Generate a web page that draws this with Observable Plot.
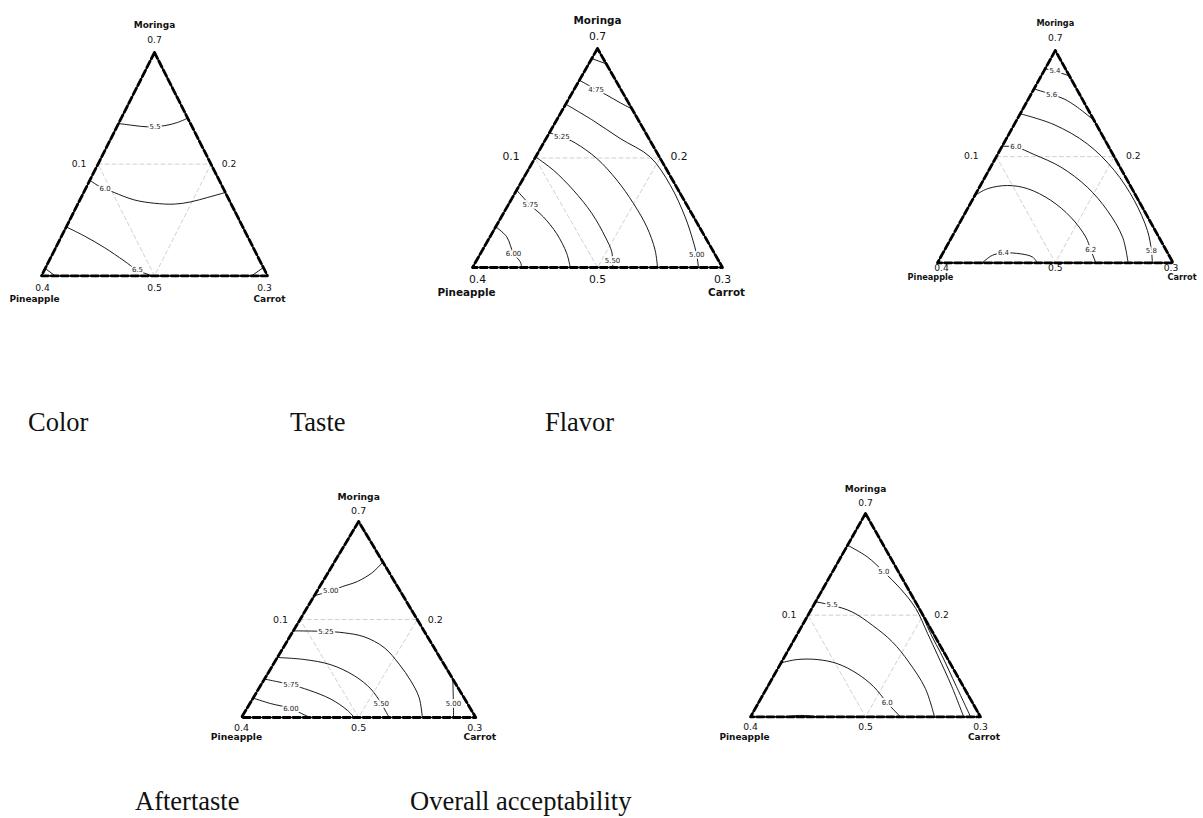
<!DOCTYPE html>
<html>
<head>
<meta charset="utf-8">
<script src="https://cdn.jsdelivr.net/npm/d3@7"></script>
<script src="https://cdn.jsdelivr.net/npm/@observablehq/plot@0.6"></script>
<style>
  html, body { margin: 0; padding: 0; background: #fff; }
  #page { position: relative; width: 1203px; height: 818px; overflow: hidden; background: #fff; }
  .panel { position: absolute; }
  .cap { position: absolute; font-family: "Liberation Serif", "Times New Roman", serif; font-size: 26.5px; line-height: 1; color: #111; white-space: nowrap; }
</style>
</head>
<body>
<div id="page"></div>
<script>
// ---------------- DATA ----------------
// Component names (vertices: top, bottom-left, bottom-right)
const componentNames = ["Moringa", "Pineapple", "Carrot"];
// Tick labels at the vertices (top, bottom-left, bottom-right)
const vertexTicks = ["0.7", "0.4", "0.3"];
// Tick labels at the side midpoints (left side, right side, bottom side)
const midTicks = ["0.1", "0.2", "0.5"];
// Panel captions
const captions = ["Color", "Taste", "Flavor", "Aftertaste", "Overall acceptability"];

// Contour lines: points as [Moringa, Carrot] pseudo-component fractions
// (Pineapple = 1 - Moringa - Carrot); label = where the level value is printed
const colorLines = [
  { level: "5.5", label: [0.669, 0.168], pts: [[0.682, 0], [0.673, 0.073], [0.667, 0.135], [0.672, 0.207], [0.687, 0.259], [0.706, 0.294]] },
  { level: "6.0", label: [0.391, 0.086], pts: [[0.428, 0], [0.403, 0.05], [0.391, 0.086], [0.373, 0.135], [0.340, 0.240], [0.325, 0.336], [0.321, 0.427], [0.331, 0.495], [0.351, 0.56], [0.373, 0.627]] },
  { level: "6.5", label: [0.025, 0.412], pts: [[0.219, 0], [0.179, 0.099], [0.127, 0.214], [0.067, 0.332], [0.025, 0.412], [0, 0.49]] },
  { level: "", label: null, pts: [[0.033, 0], [0, 0.06]] },
  { level: "", label: null, pts: [[0, 0.93], [0.037, 0.963]] }
];
const tasteLines = [
  { level: "", label: null, pts: [[0.954, 0], [0.93, 0.07]] },
  { level: "4.75", label: [0.813, 0.088], pts: [[0.855, 0], [0.813, 0.088], [0.787, 0.144], [0.752, 0.215], [0.724, 0.276]] },
  { level: "5.00", label: [0.056, 0.869], pts: [[0.746, 0], [0.670, 0.149], [0.589, 0.296], [0.505, 0.458], [0.376, 0.603], [0.231, 0.735], [0.125, 0.819], [0.056, 0.869], [0, 0.904]] },
  { level: "5.25", label: [0.597, 0.059], pts: [[0.615, 0], [0.597, 0.059], [0.569, 0.126], [0.498, 0.248], [0.399, 0.378], [0.292, 0.498], [0.186, 0.604], [0.079, 0.691], [0, 0.74]] },
  { level: "5.50", label: [0.03, 0.545], pts: [[0.505, 0], [0.444, 0.102], [0.353, 0.227], [0.247, 0.354], [0.140, 0.461], [0.072, 0.521], [0.03, 0.545], [0, 0.561]] },
  { level: "5.75", label: [0.285, 0.089], pts: [[0.353, 0], [0.285, 0.089], [0.231, 0.168], [0.155, 0.259], [0.064, 0.345], [0, 0.391]] },
  { level: "6.00", label: [0.064, 0.132], pts: [[0.186, 0], [0.140, 0.067], [0.064, 0.132], [0.026, 0.178], [0, 0.197]] }
];
const flavorLines = [
  { level: "5.4", label: [0.903, 0.047], pts: [[0.914, 0], [0.903, 0.047], [0.88, 0.12]] },
  { level: "5.6", label: [0.793, 0.088], pts: [[0.819, 0], [0.793, 0.088], [0.772, 0.151], [0.733, 0.227], [0.670, 0.33]] },
  { level: "5.8", label: [0.058, 0.879], pts: [[0.702, 0], [0.651, 0.169], [0.560, 0.356], [0.435, 0.533], [0.294, 0.688], [0.152, 0.815], [0.058, 0.879], [0, 0.912]] },
  { level: "6.0", label: [0.545, 0.06], pts: [[0.549, 0], [0.545, 0.06], [0.510, 0.155], [0.451, 0.298], [0.356, 0.458], [0.246, 0.598], [0.121, 0.725], [0, 0.809]] },
  { level: "6.2", label: [0.061, 0.62], pts: [[0.317, 0], [0.349, 0.038], [0.364, 0.115], [0.349, 0.208], [0.294, 0.334], [0.215, 0.458], [0.121, 0.569], [0.061, 0.62], [0, 0.672]] },
  { level: "6.4", label: [0.046, 0.257], pts: [[0, 0.19], [0.035, 0.215], [0.046, 0.257], [0.042, 0.333], [0.027, 0.39], [0, 0.424]] }
];
const aftertasteLines = [
  { level: "5.00", label: [0.646, 0.058], pts: [[0.621, 0], [0.646, 0.058], [0.668, 0.097], [0.694, 0.148], [0.740, 0.189], [0.793, 0.207]] },
  { level: "5.25", label: [0.439, 0.141], pts: [[0.442, 0], [0.439, 0.141], [0.432, 0.222], [0.412, 0.317], [0.357, 0.43], [0.272, 0.537], [0.187, 0.629], [0.102, 0.707], [0, 0.772]] },
  { level: "5.50", label: [0.071, 0.561], pts: [[0.306, 0], [0.296, 0.119], [0.269, 0.247], [0.213, 0.375], [0.145, 0.48], [0.071, 0.561], [0, 0.63]] },
  { level: "5.75", label: [0.167, 0.128], pts: [[0.196, 0], [0.167, 0.128], [0.139, 0.219], [0.094, 0.334], [0.037, 0.433], [0, 0.481]] },
  { level: "6.00", label: [0.046, 0.188], pts: [[0.099, 0], [0.071, 0.089], [0.046, 0.188], [0.014, 0.26], [0, 0.293]] },
  { level: "5.00", label: [0.071, 0.869], pts: [[0.196, 0.804], [0.071, 0.869], [0, 0.905]] }
];
const overallLines = [
  { level: "5.0", label: [0.713, 0.223], pts: [[0.844, 0], [0.787, 0.114], [0.713, 0.223], [0.631, 0.336], [0.533, 0.452], [0.41, 0.565], [0.3, 0.665], [0.15, 0.8], [0, 0.927]] },
  { level: "", label: null, pts: [[0.52, 0.48], [0.41, 0.578], [0.3, 0.683], [0.15, 0.82], [0, 0.957]] },
  { level: "5.5", label: [0.549, 0.08], pts: [[0.566, 0], [0.549, 0.08], [0.516, 0.184], [0.451, 0.304], [0.369, 0.432], [0.270, 0.553], [0.139, 0.691], [0, 0.8]] },
  { level: "6.0", label: [0.069, 0.56], pts: [[0.266, 0], [0.282, 0.062], [0.282, 0.149], [0.262, 0.246], [0.213, 0.357], [0.148, 0.462], [0.069, 0.56], [0, 0.652]] },
  { level: "", label: null, pts: [[0, 0.15], [0.006, 0.19], [0.007, 0.23], [0, 0.29]] }
];

// ---------------- LAYOUT ----------------
const panels = [
  { lines: colorLines, top: [153.3, 51.7], bl: [40.7, 275], br: [266.7, 275], nameSize: 9, numSize: 9.2,
    off: { name: -27, apex: -12, base: 12, pinDx: -7, pinDy: 23, carDx: 2, carDy: 23, bl: 1, br: -3, left: -19, right: 18, midDy: 0 } },
  { lines: tasteLines, top: [596.7, 48.3], bl: [472.3, 267.3], br: [722.3, 267.3], nameSize: 10.4, numSize: 10.8,
    off: { name: -28, apex: -11.5, base: 12, pinDx: -6, pinDy: 25, carDx: 4, carDy: 25, bl: 5, br: 0, left: -24, right: 19, midDy: -1 } },
  { lines: flavorLines, top: [1053.3, 50], bl: [936.7, 262.3], br: [1172.3, 262.3], nameSize: 8.2, numSize: 9.2,
    off: { name: -27, apex: -12, base: 5.5, pinDx: -7, pinDy: 14.5, carDx: 9, carDy: 14.5, bl: 4, br: -2, left: -25, right: 19, midDy: -1 } },
  { lines: aftertasteLines, top: [357.3, 520.7], bl: [240.7, 716.7], br: [475, 716.7], nameSize: 9.2, numSize: 9.5,
    off: { name: -24, apex: -10.7, base: 10, pinDx: -5, pinDy: 19.5, carDx: 4, carDy: 19.5, bl: 0, br: -1, left: -19.5, right: 18, midDy: 0 } },
  { lines: overallLines, top: [864, 513.3], bl: [750, 716.7], br: [980, 716.7], nameSize: 9, numSize: 9.2,
    off: { name: -24.3, apex: -10.6, base: 10, pinDx: -6, pinDy: 20, carDx: 3.5, carDy: 20, bl: 0, br: 0, left: -19, right: 18.5, midDy: 0 } }
];
const captionPos = [[28, 431], [290, 431], [545, 431], [135, 810], [410, 810]];

// ---------------- DRAW ----------------
const page = document.getElementById("page");
const X = d => d.c + d.m / 2;
const Y = d => d.m;
const FONT = "DejaVu Sans";

function drawPanel(p) {
  const ml = 60, mr = 60, mt = 45, mb = 40;
  const W = p.br[0] - p.bl[0], H = p.bl[1] - p.top[1];
  const rows = p.lines.flatMap((ln, i) => ln.pts.map(([m, c]) => ({ id: i, m, c })));
  const labels = p.lines.filter(l => l.label).map(l => ({ m: l.label[0], c: l.label[1], text: l.level }));
  const frame = [{ m: 1, c: 0 }, { m: 0, c: 0 }, { m: 0, c: 1 }, { m: 1, c: 0 }];
  const inner = [{ m: 0.5, c: 0 }, { m: 0.5, c: 0.5 }, { m: 0, c: 0.5 }, { m: 0.5, c: 0 }];
  const o = p.off;
  const txt = (m, c, text, dx, dy, size, weight) =>
    Plot.text([{ m, c, text }], { x: X, y: Y, text: "text", dx, dy, fontSize: size, fontWeight: weight, fontFamily: FONT, fill: "#111" });

  const svg = Plot.plot({
    width: W + ml + mr,
    height: H + mt + mb,
    marginLeft: ml, marginRight: mr, marginTop: mt, marginBottom: mb,
    x: { domain: [0, 1], axis: null },
    y: { domain: [0, 1], axis: null },
    style: { overflow: "visible", background: "transparent" },
    marks: [
      Plot.line(inner, { x: X, y: Y, stroke: "#c4c4c4", strokeWidth: 0.8, strokeDasharray: "4,3" }),
      Plot.line(rows, { x: X, y: Y, z: "id", curve: "catmull-rom", stroke: "#000", strokeWidth: 0.9 }),
      Plot.text(labels, { x: X, y: Y, text: "text", fontSize: 7, fontFamily: FONT, fill: "#222", stroke: "#fff", strokeWidth: 3.5, paintOrder: "stroke" }),
      Plot.line(frame, { x: X, y: Y, stroke: "#000", strokeWidth: 1.2 }),
      Plot.line(frame, { x: X, y: Y, stroke: "#000", strokeWidth: 2.8, strokeDasharray: "7,3" }),
      txt(1, 0, componentNames[0], 0, o.name, p.nameSize, "bold"),
      txt(1, 0, vertexTicks[0], 0, o.apex, p.numSize, "normal"),
      txt(0, 0, vertexTicks[1], o.bl, o.base, p.numSize, "normal"),
      txt(0, 0, componentNames[1], o.pinDx, o.pinDy, p.nameSize, "bold"),
      txt(0, 1, vertexTicks[2], o.br, o.base, p.numSize, "normal"),
      txt(0, 1, componentNames[2], o.carDx, o.carDy, p.nameSize, "bold"),
      txt(0.5, 0, midTicks[0], o.left, o.midDy, p.numSize, "normal"),
      txt(0.5, 0.5, midTicks[1], o.right, o.midDy, p.numSize, "normal"),
      txt(0, 0.5, midTicks[2], 0, o.base, p.numSize, "normal")
    ]
  });
  const div = document.createElement("div");
  div.className = "panel";
  div.style.left = (p.bl[0] - ml) + "px";
  div.style.top = (p.top[1] - mt) + "px";
  div.style.width = (W + ml + mr) + "px";
  div.appendChild(svg);
  page.appendChild(div);
}
panels.forEach(drawPanel);

// captions (baseline positioned)
captions.forEach((t, i) => {
  const d = document.createElement("div");
  d.className = "cap";
  d.textContent = t;
  d.style.left = captionPos[i][0] + "px";
  d.style.top = (captionPos[i][1] - 22.2) + "px";
  page.appendChild(d);
});
</script>
</body>
</html>
